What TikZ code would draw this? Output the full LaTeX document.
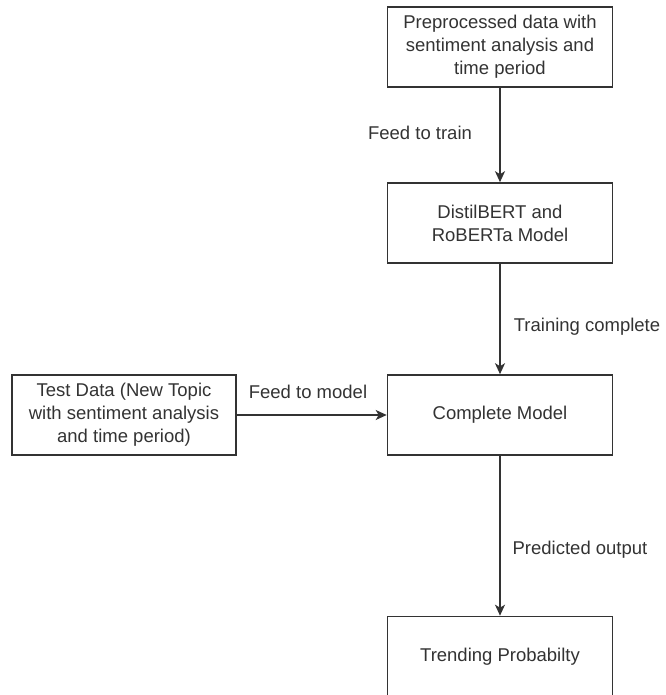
\documentclass[tikz,border=0pt]{standalone}
\usepackage{fontspec}
\setmainfont{Liberation Sans}
\usetikzlibrary{arrows.meta}
\definecolor{ink}{HTML}{333333}
\tikzset{
  box/.style={draw=ink, line width=1.6pt, fill=white, minimum width=225pt, minimum height=80pt,
    align=center, text=ink, inner sep=0pt, font=\fontsize{18.5}{22.8}\selectfont},
  conn/.style={draw=ink, line width=1.6pt, -{Stealth[length=11pt,width=10pt,inset=3pt]}},
  lbl/.style={text=ink, inner sep=0pt, font=\fontsize{18.5}{22.8}\selectfont}
}
\begin{document}
\begin{tikzpicture}[x=1pt,y=-1pt]
\useasboundingbox (0,0) rectangle (665,695);
\node[box] (pre) at (500,47) {Preprocessed data with\\sentiment analysis and\\time period};
\node[box] (bert) at (500,223) {DistilBERT and\\RoBERTa Model};
\node[box] (comp) at (500,415) {Complete Model};
\node[box, minimum width=224pt] (test) at (124,415) {Test Data (New Topic\\with sentiment analysis\\and time period)};
\begin{scope}
\clip (0,0) rectangle (665,695);
\node[box] (trend) at (500,656.5) {Trending Probabilty};
\end{scope}
\draw[conn] (pre) -- (bert);
\draw[conn] (bert) -- (comp);
\draw[conn] (test) -- (comp);
\draw[conn] (comp) -- (trend);
\node[lbl] (l1) at (420,133) {Feed to train};
\node[lbl] (l2) at (587,327) {Training complete};
\node[lbl] (l3) at (308,392) {Feed to model};
\node[lbl] (l4) at (580,550) {Predicted output};
\end{tikzpicture}
\end{document}
